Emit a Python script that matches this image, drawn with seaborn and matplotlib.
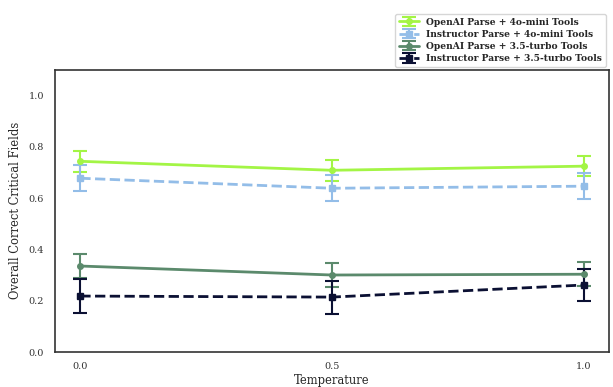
import matplotlib
matplotlib.use("Agg")
import matplotlib.pyplot as plt
import seaborn as sns

temperatures = [0.0, 0.5, 1.0]
series_labels = [
    "OpenAI Parse + 4o-mini Tools",
    "Instructor Parse + 4o-mini Tools",
    "OpenAI Parse + 3.5-turbo Tools",
    "Instructor Parse + 3.5-turbo Tools",
]
openai_4o = [0.743, 0.708, 0.724]
openai_4o_err = [0.040, 0.041, 0.040]
instr_4o = [0.677, 0.638, 0.646]
instr_4o_err = [0.051, 0.051, 0.051]
openai_35 = [0.335, 0.300, 0.303]
openai_35_err = [0.048, 0.048, 0.047]
instr_35 = [0.218, 0.214, 0.261]
instr_35_err = [0.066, 0.064, 0.062]

values = [openai_4o, instr_4o, openai_35, instr_35]
errors = [openai_4o_err, instr_4o_err, openai_35_err, instr_35_err]
colors = ["#a3f545", "#93bde8", "#5b8a6c", "#0b1033"]
styles = ["-", "--", "-", "--"]
markers = ["o", "s", "o", "s"]

sns.set_theme(style="white")
plt.rcParams["font.family"] = ["DejaVu Serif"]

fig, ax = plt.subplots(figsize=(6.13, 3.87), dpi=100)
for lab, v, e, c, ls, m in zip(series_labels, values, errors, colors, styles, markers):
    ax.errorbar(temperatures, v, yerr=e, label=lab, color=c, linestyle=ls,
                marker=m, markersize=4, linewidth=2, capsize=5, elinewidth=1.5,
                capthick=1.5)

ax.set_xlim(-0.05, 1.05)
ax.set_ylim(0, 1.1)
ax.set_xticks([0.0, 0.5, 1.0])
ax.set_yticks([0.0, 0.2, 0.4, 0.6, 0.8, 1.0])
ax.tick_params(labelsize=7, colors="#333333", length=0)
ax.tick_params(axis="x", pad=7)
ax.tick_params(axis="y", pad=8)
ax.set_xlabel("Temperature", fontsize=8.3, labelpad=2)
ax.set_ylabel("Overall Correct Critical Fields", fontsize=8.3, labelpad=5)
for s in ax.spines.values():
    s.set_color("#333333")
    s.set_linewidth(1.2)

ax.legend(loc="lower right", bbox_to_anchor=(1.0, 1.0),
          prop={"weight": "bold", "size": 6.6}, frameon=True,
          borderaxespad=0.3, handlelength=2.2, labelspacing=0.35,
          borderpad=0.4)

fig.subplots_adjust(left=0.09, right=0.993, top=0.82, bottom=0.0904)
fig.savefig("out.png", dpi=100)
